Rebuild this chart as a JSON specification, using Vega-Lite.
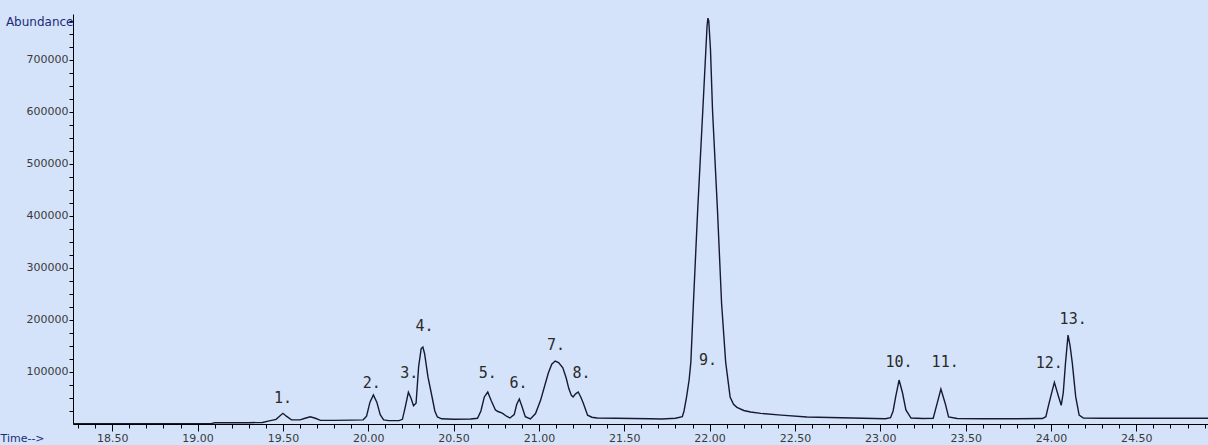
{
  "$schema": "https://vega.github.io/schema/vega-lite/v6.json",
  "width": 1135,
  "height": 410,
  "autosize": {"type": "none"},
  "padding": {"left": 73, "top": 14, "right": 0, "bottom": 21},
  "background": "#d4e3f9",
  "config": {
    "view": {"stroke": null},
    "axis": {"grid": false, "domainColor": "#000000", "tickColor": "#000000", "labelFont": "DejaVu Sans", "labelFontSize": 11, "labelColor": "#3a3a3a", "titleFont": "DejaVu Sans", "titleFontSize": 12, "titleFontWeight": "normal", "titleColor": "#1c2c78"}
  },
  "datasets": {
    "trace": [
      {"t": 18.27, "a": 800}, {"t": 18.5, "a": 800}, {"t": 18.8, "a": 800}, {"t": 19.08, "a": 800},
      {"t": 19.1, "a": 2500}, {"t": 19.2, "a": 2500}, {"t": 19.3, "a": 2500}, {"t": 19.38, "a": 3000},
      {"t": 19.42, "a": 6000}, {"t": 19.46, "a": 9000}, {"t": 19.48, "a": 15000}, {"t": 19.5, "a": 20500},
      {"t": 19.52, "a": 15000}, {"t": 19.55, "a": 8000}, {"t": 19.6, "a": 8000}, {"t": 19.63, "a": 11000},
      {"t": 19.66, "a": 14000}, {"t": 19.69, "a": 11000}, {"t": 19.72, "a": 7000}, {"t": 19.8, "a": 7000},
      {"t": 19.9, "a": 7500}, {"t": 19.97, "a": 8000}, {"t": 19.99, "a": 15000}, {"t": 20.01, "a": 42000},
      {"t": 20.03, "a": 56000}, {"t": 20.05, "a": 42000}, {"t": 20.07, "a": 18000}, {"t": 20.09, "a": 8000},
      {"t": 20.12, "a": 6500}, {"t": 20.18, "a": 6500}, {"t": 20.2, "a": 9000}, {"t": 20.215, "a": 30000},
      {"t": 20.235, "a": 61000}, {"t": 20.25, "a": 50000}, {"t": 20.265, "a": 35000}, {"t": 20.28, "a": 40000},
      {"t": 20.295, "a": 110000}, {"t": 20.31, "a": 145000}, {"t": 20.32, "a": 148000}, {"t": 20.33, "a": 135000},
      {"t": 20.35, "a": 90000}, {"t": 20.375, "a": 50000}, {"t": 20.39, "a": 25000}, {"t": 20.405, "a": 13500},
      {"t": 20.43, "a": 10000}, {"t": 20.5, "a": 9000}, {"t": 20.6, "a": 9500}, {"t": 20.64, "a": 11000},
      {"t": 20.66, "a": 25000}, {"t": 20.68, "a": 52000}, {"t": 20.7, "a": 61500}, {"t": 20.72, "a": 45000},
      {"t": 20.745, "a": 27000}, {"t": 20.76, "a": 24000}, {"t": 20.785, "a": 21000}, {"t": 20.81, "a": 15000},
      {"t": 20.83, "a": 11500}, {"t": 20.855, "a": 18000}, {"t": 20.87, "a": 38000}, {"t": 20.885, "a": 48000},
      {"t": 20.9, "a": 34000}, {"t": 20.92, "a": 14000}, {"t": 20.95, "a": 9600}, {"t": 20.98, "a": 20000},
      {"t": 21.01, "a": 46000}, {"t": 21.035, "a": 75000}, {"t": 21.055, "a": 98000}, {"t": 21.075, "a": 115000},
      {"t": 21.095, "a": 121000}, {"t": 21.115, "a": 118000}, {"t": 21.14, "a": 108000}, {"t": 21.16, "a": 88000},
      {"t": 21.175, "a": 68000}, {"t": 21.19, "a": 55000}, {"t": 21.2, "a": 52000}, {"t": 21.215, "a": 58000},
      {"t": 21.23, "a": 61500}, {"t": 21.245, "a": 52000}, {"t": 21.26, "a": 40000}, {"t": 21.285, "a": 17000},
      {"t": 21.31, "a": 13000}, {"t": 21.34, "a": 11500}, {"t": 21.45, "a": 11000}, {"t": 21.55, "a": 10500},
      {"t": 21.65, "a": 10000}, {"t": 21.72, "a": 9600}, {"t": 21.8, "a": 11000}, {"t": 21.84, "a": 14000},
      {"t": 21.85, "a": 25000}, {"t": 21.865, "a": 52000}, {"t": 21.88, "a": 85000}, {"t": 21.89, "a": 119000},
      {"t": 21.905, "a": 232000}, {"t": 21.93, "a": 411000}, {"t": 21.96, "a": 603000}, {"t": 21.975, "a": 700000},
      {"t": 21.985, "a": 765000}, {"t": 21.99, "a": 780000}, {"t": 21.995, "a": 775000}, {"t": 22.005, "a": 720000},
      {"t": 22.017, "a": 603000}, {"t": 22.046, "a": 411000}, {"t": 22.07, "a": 232000}, {"t": 22.094, "a": 119000},
      {"t": 22.12, "a": 52000}, {"t": 22.14, "a": 38000}, {"t": 22.16, "a": 32000}, {"t": 22.2, "a": 26000},
      {"t": 22.24, "a": 23000}, {"t": 22.3, "a": 20500}, {"t": 22.42, "a": 17000}, {"t": 22.57, "a": 13500},
      {"t": 22.77, "a": 12000}, {"t": 22.9, "a": 11000}, {"t": 23.03, "a": 10000}, {"t": 23.06, "a": 12000},
      {"t": 23.075, "a": 25000}, {"t": 23.09, "a": 52000}, {"t": 23.11, "a": 84500}, {"t": 23.13, "a": 60000},
      {"t": 23.15, "a": 27000}, {"t": 23.18, "a": 11500}, {"t": 23.25, "a": 10500}, {"t": 23.31, "a": 11000},
      {"t": 23.335, "a": 42000}, {"t": 23.355, "a": 67000}, {"t": 23.38, "a": 40000}, {"t": 23.4, "a": 13500},
      {"t": 23.45, "a": 10500}, {"t": 23.6, "a": 10000}, {"t": 23.8, "a": 10000}, {"t": 23.95, "a": 10500},
      {"t": 23.97, "a": 14000}, {"t": 23.985, "a": 35000}, {"t": 23.998, "a": 52000}, {"t": 24.02, "a": 80000},
      {"t": 24.045, "a": 52000}, {"t": 24.06, "a": 36000}, {"t": 24.072, "a": 60000}, {"t": 24.085, "a": 117000},
      {"t": 24.1, "a": 171000}, {"t": 24.112, "a": 150000}, {"t": 24.125, "a": 117000}, {"t": 24.145, "a": 52000},
      {"t": 24.165, "a": 17000}, {"t": 24.19, "a": 11500}, {"t": 24.3, "a": 11000}, {"t": 24.5, "a": 11000},
      {"t": 24.7, "a": 11000}, {"t": 24.92, "a": 11000}
    ],
    "labels": [
      {"t": 19.5, "a": 50000, "label": "1."},
      {"t": 20.02, "a": 79000, "label": "2."},
      {"t": 20.24, "a": 98000, "label": "3."},
      {"t": 20.33, "a": 188000, "label": "4."},
      {"t": 20.7, "a": 98000, "label": "5."},
      {"t": 20.88, "a": 79000, "label": "6."},
      {"t": 21.1, "a": 152000, "label": "7."},
      {"t": 21.25, "a": 98000, "label": "8."},
      {"t": 21.99, "a": 123000, "label": "9."},
      {"t": 23.11, "a": 119000, "label": "10."},
      {"t": 23.38, "a": 119000, "label": "11."},
      {"t": 23.99, "a": 117000, "label": "12."},
      {"t": 24.13, "a": 202000, "label": "13."}
    ]
  },
  "layer": [
    {
      "data": {"name": "trace"},
      "mark": {"type": "line", "color": "#161a30", "strokeWidth": 1.4, "clip": true},
      "encoding": {
        "x": {"field": "t", "type": "quantitative",
          "scale": {"domain": [18.27, 24.92], "nice": false, "zero": false},
          "axis": {
            "values": [18.3,18.4,18.5,18.6,18.7,18.8,18.9,19.0,19.1,19.2,19.3,19.4,19.5,19.6,19.7,19.8,19.9,20.0,20.1,20.2,20.3,20.4,20.5,20.6,20.7,20.8,20.9,21.0,21.1,21.2,21.3,21.4,21.5,21.6,21.7,21.8,21.9,22.0,22.1,22.2,22.3,22.4,22.5,22.6,22.7,22.8,22.9,23.0,23.1,23.2,23.3,23.4,23.5,23.6,23.7,23.8,23.9,24.0,24.1,24.2,24.3,24.4,24.5,24.6,24.7,24.8,24.9],
            "tickCount": 500,
            "labelExpr": "abs(datum.value*2 - round(datum.value*2)) < 0.001 ? format(datum.value, '.2f') : ''",
            "tickSize": {"condition": {"test": "abs(datum.value*2 - round(datum.value*2)) < 0.001", "value": 7}, "value": 4},
            "labelPadding": 1,
            "labelFlush": false,
            "labelOverlap": false,
            "title": "Time-->",
            "titleAlign": "left",
            "titleAnchor": "start",
            "titleX": -73,
            "titleY": 14,
            "titleBaseline": "middle",
            "titleFontSize": 11
          }
        },
        "y": {"field": "a", "type": "quantitative",
          "scale": {"domain": [0, 788000], "nice": false},
          "axis": {
            "values": [25000,50000,75000,100000,125000,150000,175000,200000,225000,250000,275000,300000,325000,350000,375000,400000,425000,450000,475000,500000,525000,550000,575000,600000,625000,650000,675000,700000,725000,750000,775000],
            "tickCount": 500,
            "labelExpr": "datum.value % 100000 === 0 ? format(datum.value, 'd') : ''",
            "tickSize": 4,
            "labelPadding": 1,
            "labelOverlap": false,
            "title": "Abundance",
            "titleAngle": 0,
            "titleAlign": "right",
            "titleBaseline": "middle",
            "titleX": 0,
            "titleY": 7
          }
        }
      }
    },
    {
      "data": {"name": "labels"},
      "mark": {"type": "text", "font": "DejaVu Sans Mono", "fontSize": 15, "color": "#2a2a2a", "align": "center", "baseline": "middle"},
      "encoding": {
        "x": {"field": "t", "type": "quantitative"},
        "y": {"field": "a", "type": "quantitative"},
        "text": {"field": "label"}
      }
    }
  ]
}
